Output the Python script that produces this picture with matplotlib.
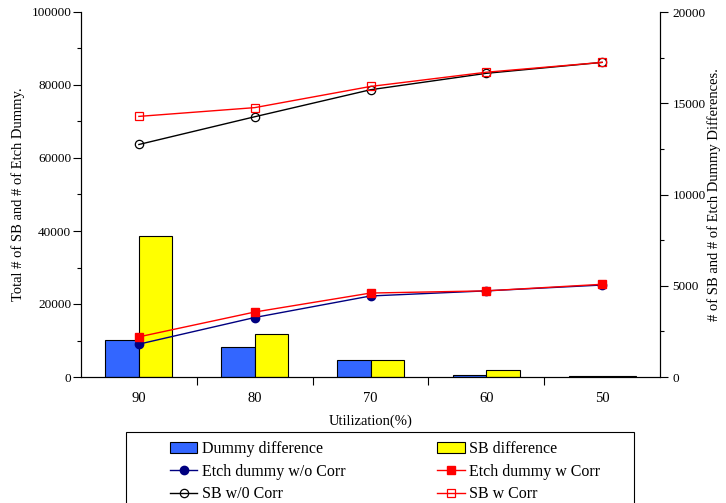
import numpy as np
import matplotlib.pyplot as plt
from matplotlib.patches import Rectangle
from matplotlib.ticker import MultipleLocator, FixedLocator

plt.rcParams['font.family'] = ['Liberation Serif', 'DejaVu Serif']

# ---- data -----------------------------------------------------------------
utilization = ["90", "80", "70", "60", "50"]

# left axis: totals
etch_wo_corr = [9000, 16300, 22200, 23600, 25200]
etch_w_corr = [11000, 17800, 23000, 23600, 25400]
sb_wo_corr = [63700, 71300, 78700, 83200, 86200]
sb_w_corr = [71400, 73800, 79600, 83500, 86200]

# right axis: differences
dummy_diff = [2030, 1660, 930, 100, 80]
sb_diff = [7730, 2370, 930, 400, 40]

x = np.arange(len(utilization))
bar_w = 0.29

fig = plt.figure(figsize=(7.26, 5.03), dpi=100)
ax = fig.add_axes([81 / 726, 1 - 377 / 503, (660 - 81) / 726, (377 - 12) / 503])
ax2 = ax.twinx()
ax.set_zorder(ax2.get_zorder() + 1)
ax.patch.set_visible(False)

# bars on the right-hand axis
b1 = ax2.bar(x - bar_w / 2, dummy_diff, bar_w, color="#3366ff", edgecolor="black", lw=0.8)
b2 = ax2.bar(x + bar_w / 2, sb_diff, bar_w, color="#ffff00", edgecolor="black", lw=0.8)

# lines on the left-hand axis
l1, = ax.plot(x, etch_wo_corr, color="#000080", lw=1.0, marker="o", ms=6,
              mfc="#000080", mec="#000080")
l2, = ax.plot(x, etch_w_corr, color="red", lw=1.0, marker="s", ms=6,
              mfc="red", mec="red")
l3, = ax.plot(x, sb_wo_corr, color="black", lw=1.0, marker="o", ms=6,
              mfc="none", mec="black", mew=0.9)
l4, = ax.plot(x, sb_w_corr, color="red", lw=1.0, marker="s", ms=6,
              mfc="none", mec="red", mew=0.9)

ax.set_xlim(-0.5, 4.5)
ax.set_ylim(0, 100000)
ax2.set_ylim(0, 20000)

for a in (ax, ax2):
    a.spines["top"].set_visible(False)

ax.yaxis.set_major_locator(MultipleLocator(20000))
ax.yaxis.set_minor_locator(MultipleLocator(10000))
ax2.yaxis.set_major_locator(MultipleLocator(5000))
ax2.yaxis.set_minor_locator(MultipleLocator(2500))
ax.tick_params(axis="y", which="major", length=6, width=0.8, pad=1, labelsize=9.5)
ax.tick_params(axis="y", which="minor", length=3, width=0.8)
ax2.tick_params(axis="y", which="major", length=6, width=0.8, pad=3, labelsize=9.5)
ax2.tick_params(axis="y", which="minor", length=3, width=0.8)

# x ticks: marks between categories, labels at the centres
ax.xaxis.set_major_locator(FixedLocator([0.5, 1.5, 2.5, 3.5]))
ax.xaxis.set_major_formatter(plt.NullFormatter())
ax.xaxis.set_minor_locator(FixedLocator(x))
ax.set_xticks(x, utilization, minor=True)
ax.tick_params(axis="x", which="major", length=6, width=0.8)
ax.tick_params(axis="x", which="minor", length=0, pad=11, labelsize=10.5)

ax.set_xlabel("Utilization(%)", fontsize=10.5, labelpad=7)
ax.set_ylabel("Total # of SB and # of Etch Dummy.", fontsize=10.5)
ax.yaxis.set_label_coords(-0.096, 0.5)
ax2.set_ylabel("# of SB and # of Etch Dummy Differences.", fontsize=10.5, rotation=90)
ax2.yaxis.set_label_coords(1.082, 0.5)

# legend with a separately drawn frame (cut off at the bottom like the reference)
fig.legend([b1, l1, l3, b2, l2, l4],
           ["Dummy difference", "Etch dummy w/o Corr", "SB w/0 Corr",
            "SB difference", "Etch dummy w Corr", "SB w Corr"],
           loc="upper left", bbox_to_anchor=(170 / 726, 1 - 441 / 503),
           ncol=2, frameon=False, fontsize=11.5, handlelength=1.7,
           handletextpad=0.3, labelspacing=0.42, columnspacing=5.75,
           borderpad=0, borderaxespad=0)
fig.add_artist(Rectangle((126 / 726, -0.1), (634 - 126) / 726, 0.1 + 1 - 432 / 503,
                         transform=fig.transFigure, fill=False, ec="black", lw=0.8))

fig.savefig("out.png", dpi=100)
